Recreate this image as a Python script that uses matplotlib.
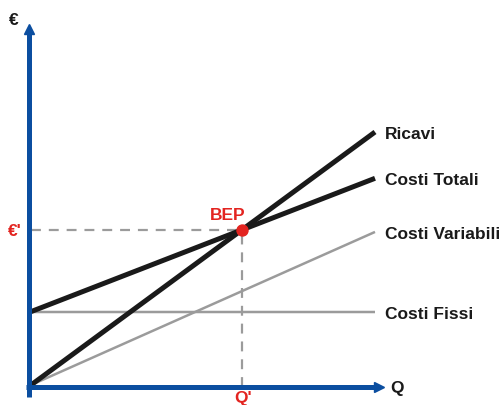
import matplotlib
matplotlib.use("Agg")
import matplotlib.pyplot as plt

# --- data (quantity Q on x, euro on y) ---
q_range = [0, 100]
ricavi = [0, 100]            # revenue
costi_totali = [29, 81.7]    # total costs
costi_variabili = [0, 60.5]  # variable costs
costi_fissi = [29, 29]       # fixed costs
line_labels = ["Ricavi", "Costi Totali", "Costi Variabili", "Costi Fissi"]

# break-even point: where revenue meets total costs
slope_r = (ricavi[1] - ricavi[0]) / (q_range[1] - q_range[0])
slope_t = (costi_totali[1] - costi_totali[0]) / (q_range[1] - q_range[0])
bep_q = (costi_totali[0] - ricavi[0]) / (slope_r - slope_t)
bep_eur = ricavi[0] + slope_r * bep_q

# --- figure ---
W, H, DPI = 501, 406, 100
fig = plt.figure(figsize=(W / DPI, H / DPI), dpi=DPI)
ax = fig.add_axes([0, 0, 1, 1])
ax.set_axis_off()

# scale: origin at pixel (31, 386); 3.44 px per Q unit, 2.53 px per euro unit
X0, Y0, SX, SY = 31, 386, 3.44, 2.53
ax.set_xlim(-X0 / SX, (W - X0) / SX)
ax.set_ylim((Y0 - H) / SY, Y0 / SY)

plt.rcParams["font.family"] = ["Liberation Sans", "DejaVu Sans"]
BLUE = "#0B4EA0"
RED = "#E32420"
BLACK = "#1A1A1A"
GREY = "#9B9B9B"
PT = 72 / DPI  # points per pixel

# axes with arrow heads
ax_x = -2.5 / SX
ax_y = -2.0 / SY
ax.plot([ax_x, ax_x], [-12 / SY, 352 / SY], color=BLUE, lw=5 * PT,
        solid_capstyle="butt", zorder=5)
ax.plot([-5 / SX, 346 / SX], [ax_y, ax_y], color=BLUE, lw=5 * PT,
        solid_capstyle="butt", zorder=5)
ax.plot([ax_x], [356 / SY], marker="^", ms=10 * PT, color=BLUE,
        mec=BLUE, zorder=6)
ax.plot([348 / SX], [ax_y], marker=">", ms=10 * PT, color=BLUE,
        mec=BLUE, zorder=6)

# cost / revenue lines
ax.plot(q_range, costi_fissi, color=GREY, lw=2.5 * PT, solid_capstyle="butt", zorder=2)
ax.plot(q_range, costi_variabili, color=GREY, lw=2.5 * PT, solid_capstyle="butt", zorder=2)
ax.plot(q_range, costi_totali, color=BLACK, lw=5 * PT, solid_capstyle="butt", zorder=3)
ax.plot(q_range, ricavi, color=BLACK, lw=5 * PT, solid_capstyle="butt", zorder=3)

# dashed guides to the break-even point
dash = (0, (4.5, 3.6))
ax.plot([0, bep_q], [bep_eur, bep_eur], color=GREY, lw=2.2 * PT, ls=dash, zorder=1)
ax.plot([bep_q, bep_q], [ax_y, bep_eur], color=GREY, lw=2.2 * PT, ls=dash, zorder=1)
ax.plot([bep_q], [bep_eur], marker="o", ms=11 * PT, color=RED, mec=RED, zorder=7)

fs = 12.5
ends = [ricavi[1], costi_totali[1], costi_variabili[1], costi_fissi[1]]
for label, yv in zip(line_labels, ends):
    ax.annotate(label, xy=(q_range[1], yv), xytext=(10 * PT, -6 * PT),
                textcoords="offset points", ha="left", va="baseline",
                fontsize=fs, fontweight="bold", color=BLACK)

ax.annotate("BEP", xy=(bep_q, bep_eur), xytext=(-14 * PT, 11 * PT),
            textcoords="offset points", ha="center", va="baseline",
            fontsize=fs, fontweight="bold", color=RED)
ax.annotate("€'", xy=(ax_x, bep_eur), xytext=(-14 * PT, -5 * PT),
            textcoords="offset points", ha="center", va="baseline",
            fontsize=fs, fontweight="bold", color=RED)
ax.annotate("Q'", xy=(bep_q, ax_y), xytext=(1 * PT, -15 * PT),
            textcoords="offset points", ha="center", va="baseline",
            fontsize=fs, fontweight="bold", color=RED)
ax.text(14 / SX - X0 / SX, (Y0 - 25) / SY, "€", ha="center", va="baseline",
        fontsize=fs, fontweight="bold", color=BLACK)
ax.text((397 - X0) / SX, (Y0 - 393) / SY, "Q", ha="center", va="baseline",
        fontsize=fs, fontweight="bold", color=BLACK)

fig.savefig("out.png", dpi=DPI)
